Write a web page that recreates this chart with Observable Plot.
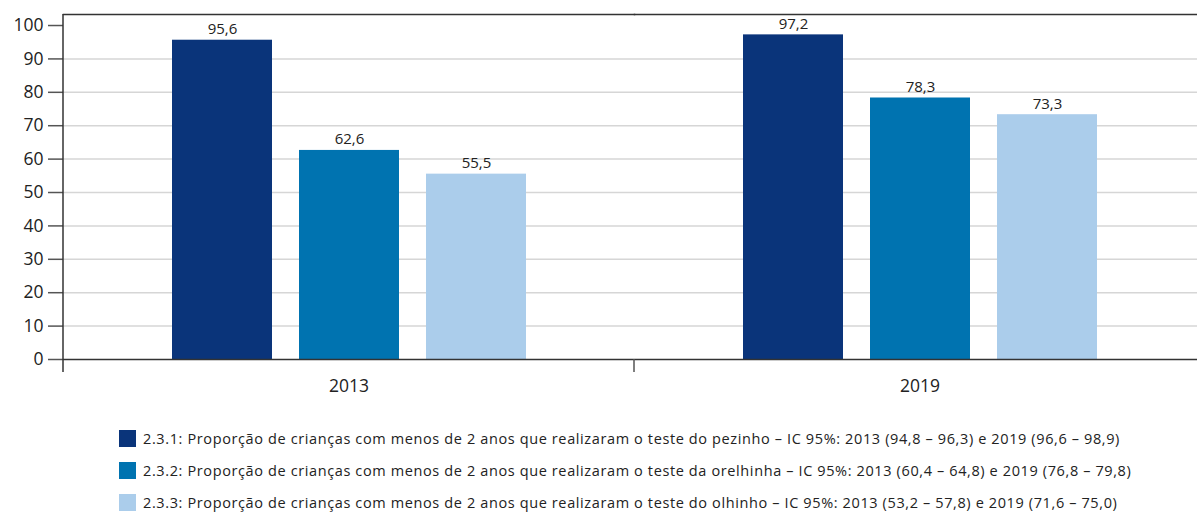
<!DOCTYPE html>
<html>
<head>
<meta charset="utf-8">
<script src="https://cdn.jsdelivr.net/npm/d3@7"></script>
<script src="https://cdn.jsdelivr.net/npm/@observablehq/plot@0.6"></script>
<style>
  html, body { margin: 0; padding: 0; background: #fff; overflow: hidden; }
  body { width: 1197px; height: 517px; font-family: "Open Sans", sans-serif; color: #222; }
  #chart { width: 1197px; overflow: hidden; }
  #legend { margin-top: 30px; padding-left: 119px; }
  .item { display: flex; align-items: center; height: 17px; margin-bottom: 15px; font-size: 14.5px; letter-spacing: 0.62px; white-space: nowrap; }
  .sw { width: 17px; height: 17px; margin-right: 7px; flex: none; }
</style>
</head>
<body>
<div id="chart"></div>
<div id="legend"></div>
<script>
const years = ["2013", "2019"];
const indicators = ["2.3.1", "2.3.2", "2.3.3"];
const values2013 = [95.6, 62.6, 55.5];
const values2019 = [97.2, 78.3, 73.3];
const colors = ["#0a347a", "#0073b0", "#abcdeb"];
const yTicks = [0, 10, 20, 30, 40, 50, 60, 70, 80, 90, 100];
const gridTicks = [10, 20, 30, 40, 50, 60, 70, 80, 90];
const yMax = 103.3;
const legendLabels = [
  "2.3.1: Proporção de crianças com menos de 2 anos que realizaram o teste do pezinho – IC 95%: 2013 (94,8 – 96,3) e 2019 (96,6 – 98,9)",
  "2.3.2: Proporção de crianças com menos de 2 anos que realizaram o teste da orelhinha – IC 95%: 2013 (60,4 – 64,8) e 2019 (76,8 – 79,8)",
  "2.3.3: Proporção de crianças com menos de 2 anos que realizaram o teste do olhinho – IC 95%: 2013 (53,2 – 57,8) e 2019 (71,6 – 75,0)"
];

const data = [];
indicators.forEach((ind, i) => {
  data.push({year: years[0], indicator: ind, value: values2013[i]});
  data.push({year: years[1], indicator: ind, value: values2019[i]});
});
const fmt = v => v.toFixed(1).replace(".", ",");

const plot = Plot.plot({
  width: 1205,
  height: 400,
  marginTop: 14,
  marginBottom: 41,
  marginLeft: 63,
  marginRight: 0,
  style: {fontFamily: "Open Sans, sans-serif", color: "#222", background: "#fff", maxWidth: "none"},
  fx: {domain: years, padding: 0, label: null},
  x: {domain: indicators, paddingInner: 0.2126, paddingOuter: 0.854, axis: null},
  y: {domain: [0, yMax], axis: null, label: null},
  color: {domain: indicators, range: colors},
  marks: [
    Plot.gridY(gridTicks, {stroke: "#d6d6d6", strokeOpacity: 1, strokeWidth: 1.5}),
    Plot.barY(data, {fx: "year", x: "indicator", y: "value", fill: "indicator"}),
    Plot.text(data, {fx: "year", x: "indicator", y: "value", text: d => fmt(d.value), dy: -11, fontSize: 15, fill: "#222"}),
    Plot.ruleY([0], {stroke: "#333", strokeWidth: 1.5}),
    Plot.frame({anchor: "top", stroke: "#333", strokeWidth: 1.5}),
    Plot.axisY(yTicks, {anchor: "left", tickSize: 15, tickPadding: 5, fontSize: 17.5, stroke: "#555", strokeWidth: 1.5, fill: "#222", label: null}),
    Plot.axisFx({anchor: "bottom", tickSize: 0, tickPadding: 20, fontSize: 17.5, fill: "#222", label: null})
  ]
});
document.getElementById("chart").appendChild(plot);

// left axis line and band-boundary ticks, derived from the plot's scales
const fx = plot.scale("fx"), y = plot.scale("y");
const svg = d3.select(plot);
const y0 = y.apply(0), yTop = y.apply(yMax);
const g = svg.append("g").attr("stroke", "#555").attr("stroke-width", 1.5);
g.append("line").attr("x1", fx.apply(years[0])).attr("x2", fx.apply(years[0]))
  .attr("y1", yTop).attr("y2", y0 + 13).attr("stroke", "#333");
years.forEach(yr => {
  const x0 = fx.apply(yr) + fx.bandwidth;
  g.append("line").attr("x1", x0).attr("x2", x0).attr("y1", y0).attr("y2", y0 + 13);
});

const legend = d3.select("#legend");
legendLabels.forEach((t, i) => {
  const it = legend.append("div").attr("class", "item");
  it.append("div").attr("class", "sw").style("background", colors[i]);
  it.append("span").text(t);
});
</script>
</body>
</html>
